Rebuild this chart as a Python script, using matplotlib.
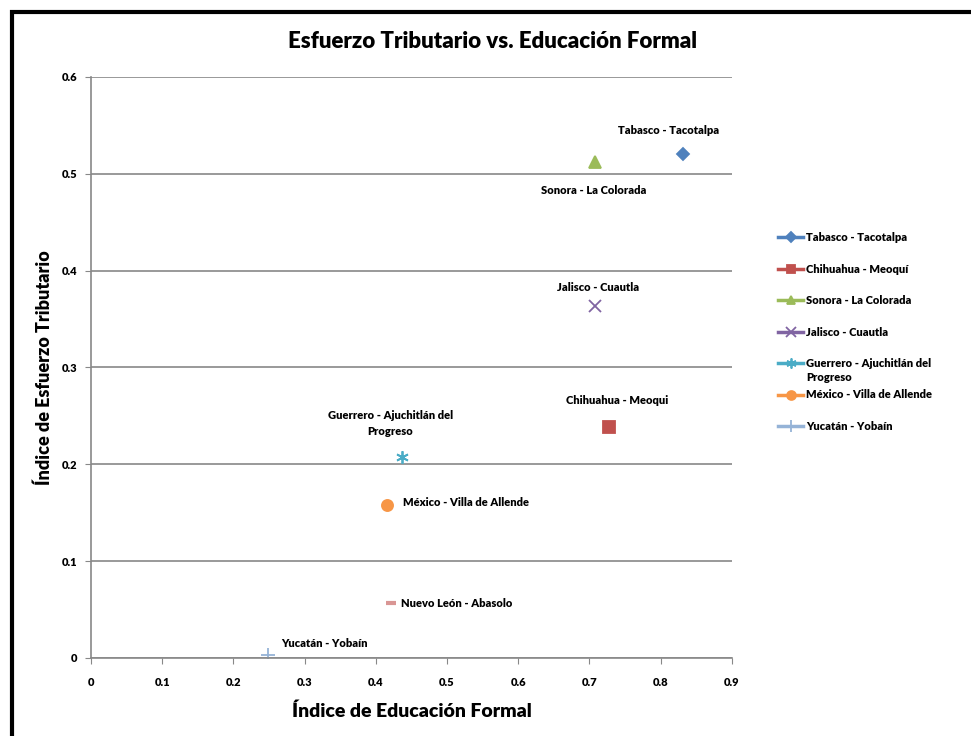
import matplotlib
matplotlib.use('Agg')
import matplotlib.pyplot as plt
from matplotlib.lines import Line2D
from matplotlib.patches import Rectangle

# Lato is close in shape to Calibri
plt.rcParams['font.family'] = ['Lato', 'DejaVu Sans']
W = 'heavy'

# municipios: education index vs tax effort index
municipios = ['Tabasco - Tacotalpa', 'Chihuahua - Meoquí', 'Sonora - La Colorada',
              'Jalisco - Cuautla', 'Guerrero - Ajuchitlán del Progreso',
              'México - Villa de Allende', 'Yucatán - Yobaín', 'Nuevo León - Abasolo']
educacion = [0.831, 0.728, 0.708, 0.708, 0.437, 0.416, 0.249, 0.421]
esfuerzo = [0.520, 0.239, 0.512, 0.363, 0.208, 0.158, 0.003, 0.057]

colores = ['#4F81BD', '#C0504D', '#9BBB59', '#8064A2', '#4BACC6', '#F79646', '#95B3D7', '#D99694']
marcadores = ['D', 's', '^', 'x', (6, 2, 0), 'o', '+', '_']
tamanos = [6, 8, 8, 9, 9, 8, 10, 7]

# annotation text and offset (pixels) for each point
etiquetas = ['Tabasco - Tacotalpa', 'Chihuahua - Meoqui', 'Sonora - La Colorada',
             'Jalisco - Cuautla', 'Guerrero - Ajuchitlán del\nProgreso',
             'México - Villa de Allende', 'Yucatán - Yobaín', 'Nuevo León - Abasolo']
offsets = [(-14, 24), (8, 26), (-1, -28), (3, 19), (-12, 33), (16, 2), (13, 12), (10, -1)]
aligns = ['center', 'center', 'center', 'center', 'center', 'left', 'left', 'left']

# legend shows the first seven series only
leg_labels = ['Tabasco - Tacotalpa', 'Chihuahua - Meoquí', 'Sonora - La Colorada',
              'Jalisco - Cuautla', 'Guerrero - Ajuchitlán del\nProgreso',
              'México - Villa de Allende', 'Yucatán - Yobaín']

fig = plt.figure(figsize=(9.71, 7.36), dpi=100)
fig.patches.append(Rectangle((0.012, -0.05), 1.05, 1.034, transform=fig.transFigure,
                             fill=False, edgecolor='black', linewidth=3))
ax = fig.add_axes([0.0937, 0.106, 0.660, 0.7894])

for i in range(len(municipios)):
    mew = 3 if marcadores[i] == '_' else 1.3
    ax.plot(educacion[i], esfuerzo[i], linestyle='none', marker=marcadores[i],
            color=colores[i], markersize=tamanos[i], markeredgewidth=mew)
    ax.annotate(etiquetas[i], (educacion[i], esfuerzo[i]), textcoords='offset pixels',
                xytext=offsets[i], ha=aligns[i], va='center', fontsize=8,
                fontweight=W, linespacing=1.5)

ax.set_xlim(0, 0.9)
ax.set_ylim(0, 0.6)
ax.set_xticks([i / 10 for i in range(10)])
ax.set_xticklabels(['0', '0.1', '0.2', '0.3', '0.4', '0.5', '0.6', '0.7', '0.8', '0.9'])
ax.set_yticks([i / 10 for i in range(7)])
ax.set_yticklabels(['0', '0.1', '0.2', '0.3', '0.4', '0.5', '0.6'])
ax.tick_params(labelsize=8, length=4, color='#888888', pad=6)
ax.tick_params(axis='x', pad=10)
for lab in ax.get_xticklabels() + ax.get_yticklabels():
    lab.set_fontweight(W)
ax.grid(axis='y', color='#888888', linewidth=1.2)
ax.set_axisbelow(True)
for s in ['top', 'right']:
    ax.spines[s].set_visible(False)
for s in ['left', 'bottom']:
    ax.spines[s].set_color('#888888')
    ax.spines[s].set_linewidth(1.2)

ax.set_xlabel('Índice de Educación Formal', fontsize=14, fontweight=W, labelpad=10)
ax.set_ylabel('Índice de Esfuerzo Tributario', fontsize=13, fontweight=W, labelpad=6)
fig.text(0.507, 0.943, 'Esfuerzo Tributario vs. Educación Formal', ha='center', va='center',
         fontsize=16, fontweight=W)

# hand-placed legend rows, in figure pixels
x0, x1, xt = 778, 803, 806
y_top, paso = 736 - 237, 31.5
for i, lab in enumerate(leg_labels):
    y = (y_top - i * paso) / 736
    fig.add_artist(Line2D([x0 / 971, x1 / 971], [y, y], color=colores[i], lw=2.5,
                          transform=fig.transFigure))
    fig.add_artist(Line2D([(x0 + x1) / 2 / 971], [y], color=colores[i], marker=marcadores[i],
                          markersize=tamanos[i] * 0.8, markeredgewidth=1.3,
                          transform=fig.transFigure))
    fig.text(xt / 971, y + 5 / 736, lab, ha='left', va='top', fontsize=8,
             fontweight=W, linespacing=1.3)

fig.savefig('out.png', dpi=100)
